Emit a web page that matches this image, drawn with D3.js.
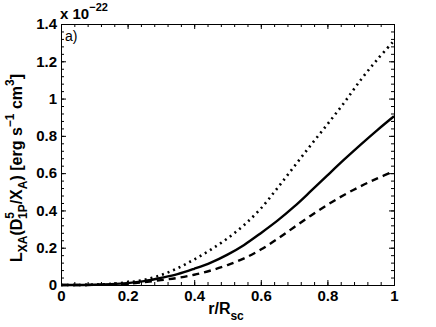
<!DOCTYPE html>
<html>
<head>
<meta charset="utf-8">
<script src="https://cdn.jsdelivr.net/npm/d3@7"></script>
<style>
  body { margin: 0; background: #fff; }
  svg text { font-family: "Liberation Sans", Arial, sans-serif; }
</style>
</head>
<body>
<div id="chart"></div>
<script>
var svgWidth = 436;
var svgHeight = 327;

var margin = { top: 24, right: 42, bottom: 42, left: 61 };
var width = 394 - margin.left;
var height = 285 - margin.top;

// r / R_sc
var rValues = [0, 0.05, 0.1, 0.15, 0.2, 0.25, 0.3, 0.35, 0.4, 0.45, 0.5,
  0.55, 0.6, 0.65, 0.7, 0.75, 0.8, 0.85, 0.9, 0.95, 1];
// units of 1e-22
var solidValues = [0, 0, 0.001, 0.004, 0.01, 0.021, 0.038, 0.058, 0.087, 0.12, 0.163,
  0.215, 0.278, 0.345, 0.42, 0.503, 0.588, 0.672, 0.753, 0.831, 0.905];
var dashedValues = [0, 0, 0.001, 0.003, 0.007, 0.015, 0.026, 0.038, 0.055, 0.078, 0.107,
  0.143, 0.19, 0.247, 0.31, 0.372, 0.43, 0.483, 0.53, 0.572, 0.61];
var dottedValues = [0, 0, 0.002, 0.006, 0.014, 0.028, 0.053, 0.09, 0.137, 0.19, 0.25,
  0.322, 0.41, 0.52, 0.635, 0.75, 0.862, 0.977, 1.1, 1.21, 1.31];

var xTicks = [0, 0.2, 0.4, 0.6, 0.8, 1];
var yTicks = [0, 0.2, 0.4, 0.6, 0.8, 1, 1.2, 1.4];
var xMinor = d3.range(0, 1.0001, 0.04);
var yMinor = d3.range(0, 1.4001, 0.04);

var svg = d3.select("#chart")
  .append("svg")
  .attr("width", svgWidth)
  .attr("height", svgHeight);

var chart = svg.append("g")
  .attr("transform", `translate(${margin.left}, ${margin.top})`);

var xScale = d3.scaleLinear().domain([0, 1]).range([0, width]);
var yScale = d3.scaleLinear().domain([0, 1.4]).range([height, 0]);

var fmt = d => String(+d.toFixed(1));

// minor ticks on all four sides
chart.append("g")
  .attr("transform", `translate(0, ${height})`)
  .call(d3.axisBottom(xScale).tickValues(xMinor).tickSize(-3).tickFormat(""));
chart.append("g")
  .call(d3.axisTop(xScale).tickValues(xMinor).tickSize(-3).tickFormat(""));
chart.append("g")
  .call(d3.axisLeft(yScale).tickValues(yMinor).tickSize(-3).tickFormat(""));
chart.append("g")
  .attr("transform", `translate(${width}, 0)`)
  .call(d3.axisRight(yScale).tickValues(yMinor).tickSize(-3).tickFormat(""));

// major ticks
var xAxisG = chart.append("g")
  .attr("transform", `translate(0, ${height})`)
  .call(d3.axisBottom(xScale).tickValues(xTicks).tickSizeInner(-5).tickSizeOuter(0).tickPadding(5).tickFormat(fmt));
chart.append("g")
  .call(d3.axisTop(xScale).tickValues(xTicks).tickSizeInner(-5).tickSizeOuter(0).tickFormat(""));
var yAxisG = chart.append("g")
  .call(d3.axisLeft(yScale).tickValues(yTicks).tickSizeInner(-5).tickSizeOuter(0).tickPadding(4).tickFormat(fmt));
chart.append("g")
  .attr("transform", `translate(${width}, 0)`)
  .call(d3.axisRight(yScale).tickValues(yTicks).tickSizeInner(-5).tickSizeOuter(0).tickFormat(""));

[xAxisG, yAxisG].forEach(g => g.selectAll("text")
  .style("font-family", "'Liberation Sans', Arial, sans-serif")
  .style("font-size", "15px")
  .style("font-weight", "bold")
  .style("fill", "#000"));

// curves
var line = d3.line()
  .x((d, i) => xScale(rValues[i]))
  .y(d => yScale(d))
  .curve(d3.curveCatmullRom);

chart.append("path")
  .datum(dottedValues)
  .attr("fill", "none")
  .attr("stroke", "#000")
  .attr("stroke-width", 2.6)
  .attr("stroke-dasharray", "2,4")
  .attr("d", line);

chart.append("path")
  .datum(solidValues)
  .attr("fill", "none")
  .attr("stroke", "#000")
  .attr("stroke-width", 2.4)
  .attr("d", line);

chart.append("path")
  .datum(dashedValues)
  .attr("fill", "none")
  .attr("stroke", "#000")
  .attr("stroke-width", 2.4)
  .attr("stroke-dasharray", "7,5")
  .attr("d", line);

// exponent label
var expo = svg.append("text")
  .attr("x", 60)
  .attr("y", 19)
  .style("font-size", "15px")
  .style("font-weight", "bold");
expo.append("tspan").text("x 10");
expo.append("tspan").attr("dy", -8).style("font-size", "11px").text("\u221222");

svg.append("text")
  .attr("x", 65)
  .attr("y", 41)
  .style("font-size", "14px")
  .text("a)");

// y label
var yLab = svg.append("text")
  .attr("transform", `translate(22, 168) rotate(-90)`)
  .style("text-anchor", "middle")
  .style("font-size", "16px")
  .style("font-weight", "bold");
yLab.append("tspan").text("L");
yLab.append("tspan").attr("dy", 5).style("font-size", "12px").text("XA");
yLab.append("tspan").attr("dy", -5).text("(D");
yLab.append("tspan").attr("dy", -8).style("font-size", "12px").text("5");
yLab.append("tspan").attr("dx", -7).attr("dy", 13).style("font-size", "12px").text("1P");
yLab.append("tspan").attr("dy", -5).text("/X");
yLab.append("tspan").attr("dy", 5).style("font-size", "12px").text("A");
yLab.append("tspan").attr("dy", -5).text(") [erg s");
yLab.append("tspan").attr("dy", -8).style("font-size", "12px").text("\u22121");
yLab.append("tspan").attr("dy", 8).text(" cm");
yLab.append("tspan").attr("dy", -8).style("font-size", "12px").text("3");
yLab.append("tspan").attr("dy", 8).text("]");

// x label
var xLab = svg.append("text")
  .attr("x", 226)
  .attr("y", 314)
  .style("text-anchor", "middle")
  .style("font-size", "16px")
  .style("font-weight", "bold");
xLab.append("tspan").text("r/R");
xLab.append("tspan").attr("dy", 6).style("font-size", "12px").text("sc");
</script>
</body>
</html>
